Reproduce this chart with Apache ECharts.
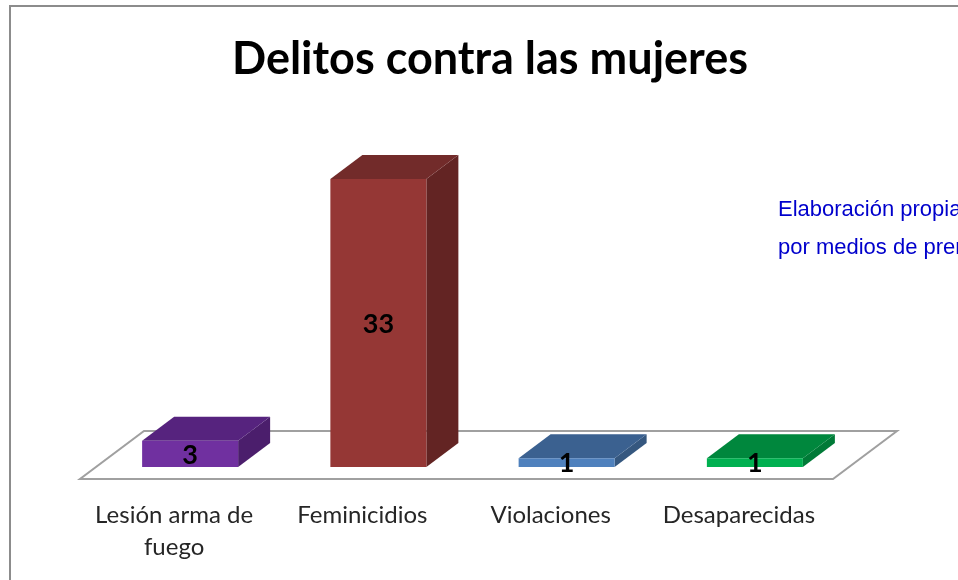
<!DOCTYPE html>
<html>
<head>
<meta charset="utf-8">
<title>Delitos contra las mujeres</title>
<script src="https://cdn.jsdelivr.net/npm/echarts@6/dist/echarts.min.js"></script>
<style>
  html, body { margin: 0; padding: 0; background: #fff; }
  #chart { width: 958px; height: 580px; }
</style>
</head>
<body>
<div id="chart"></div>
<script>
// datos
var categories = ['Lesión arma de\nfuego', 'Feminicidios', 'Violaciones', 'Desaparecidas']
var values = [3, 33, 1, 1]
var frontColors = ['#7030A0', '#953735', '#4F81BD', '#00B050']
var topColors = ['#56237E', '#722B2A', '#3B6190', '#00873D']
var sideColors = ['#4B1E6C', '#632423', '#35577F', '#007A37']

var DEPTH = [32, -24] // desplazamiento de profundidad en px
var BAR_RATIO = 0.51

function renderFloor(params, api) {
  var cs = params.coordSys
  var y0 = api.coord([0, 0])[1]
  var l = cs.x
  var r = cs.x + cs.width
  var f = -0.5
  var b = 1.5
  return {
    type: 'polygon',
    shape: {
      points: [
        [l + DEPTH[0] * f, y0 + DEPTH[1] * f],
        [r + DEPTH[0] * f, y0 + DEPTH[1] * f],
        [r + DEPTH[0] * b, y0 + DEPTH[1] * b],
        [l + DEPTH[0] * b, y0 + DEPTH[1] * b]
      ]
    },
    style: { fill: '#fff', stroke: '#a0a0a0', lineWidth: 2 }
  }
}

function renderBar(params, api) {
  var i = params.dataIndex
  var top = api.coord([api.value(0), api.value(1)])
  var base = api.coord([api.value(0), 0])
  var w = api.size([1, 0])[0] * BAR_RATIO
  var x0 = top[0] - w / 2
  var x1 = top[0] + w / 2
  var yt = top[1]
  var yb = base[1]
  var dx = DEPTH[0]
  var dy = DEPTH[1]
  return {
    type: 'group',
    children: [
      {
        type: 'polygon',
        shape: { points: [[x1, yt], [x1 + dx, yt + dy], [x1 + dx, yb + dy], [x1, yb]] },
        style: { fill: sideColors[i] }
      },
      {
        type: 'polygon',
        shape: { points: [[x0, yt], [x1, yt], [x1 + dx, yt + dy], [x0 + dx, yt + dy]] },
        style: { fill: topColors[i] }
      },
      {
        type: 'rect',
        shape: { x: x0, y: yt, width: w, height: yb - yt },
        style: { fill: frontColors[i] }
      },
      {
        type: 'text',
        x: top[0],
        y: (yt + yb) / 2 + 1,
        style: {
          text: String(api.value(1)),
          fill: '#000',
          font: 'bold 27px Lato',
          align: 'center',
          verticalAlign: 'middle'
        }
      }
    ]
  }
}

var chart = echarts.init(document.getElementById('chart'))
chart.setOption({
  animation: false,
  backgroundColor: '#fff',
  title: {
    text: 'Delitos contra las mujeres',
    left: 485,
    top: 32,
    textAlign: 'center',
    textStyle: {
      fontFamily: 'Lato',
      fontWeight: 'bold',
      fontSize: 45,
      color: '#000'
    }
  },
  graphic: [
    {
      type: 'rect',
      shape: { x: 10, y: 6, width: 1000, height: 700 },
      style: { fill: 'none', stroke: '#8c8c8c', lineWidth: 2 },
      z: 0
    },
    {
      type: 'text',
      left: 778,
      top: 191,
      style: {
        text: 'Elaboración propia\npor medios de prensa',
        font: '22px "Liberation Sans"',
        fill: '#0000CC',
        lineHeight: 38
      }
    }
  ],
  grid: {
    left: 96,
    width: 753,
    top: 161.5,
    height: 305.5
  },
  xAxis: {
    type: 'category',
    data: categories,
    axisLine: { show: false },
    axisTick: { show: false },
    axisLabel: {
      interval: 0,
      margin: 32,
      fontFamily: 'Lato',
      fontSize: 24,
      lineHeight: 32,
      color: '#262626',
      padding: [0, 32, 0, 0]
    }
  },
  yAxis: {
    type: 'value',
    min: 0,
    max: 35,
    show: false,
    splitLine: { show: false }
  },
  series: [
    {
      type: 'custom',
      name: 'piso',
      renderItem: renderFloor,
      data: [[0, 0]],
      z: 1,
      silent: true
    },
    {
      type: 'custom',
      name: 'Delitos',
      renderItem: renderBar,
      data: values.map(function (v, i) { return [i, v] }),
      z: 2
    }
  ]
})
</script>
</body>
</html>
